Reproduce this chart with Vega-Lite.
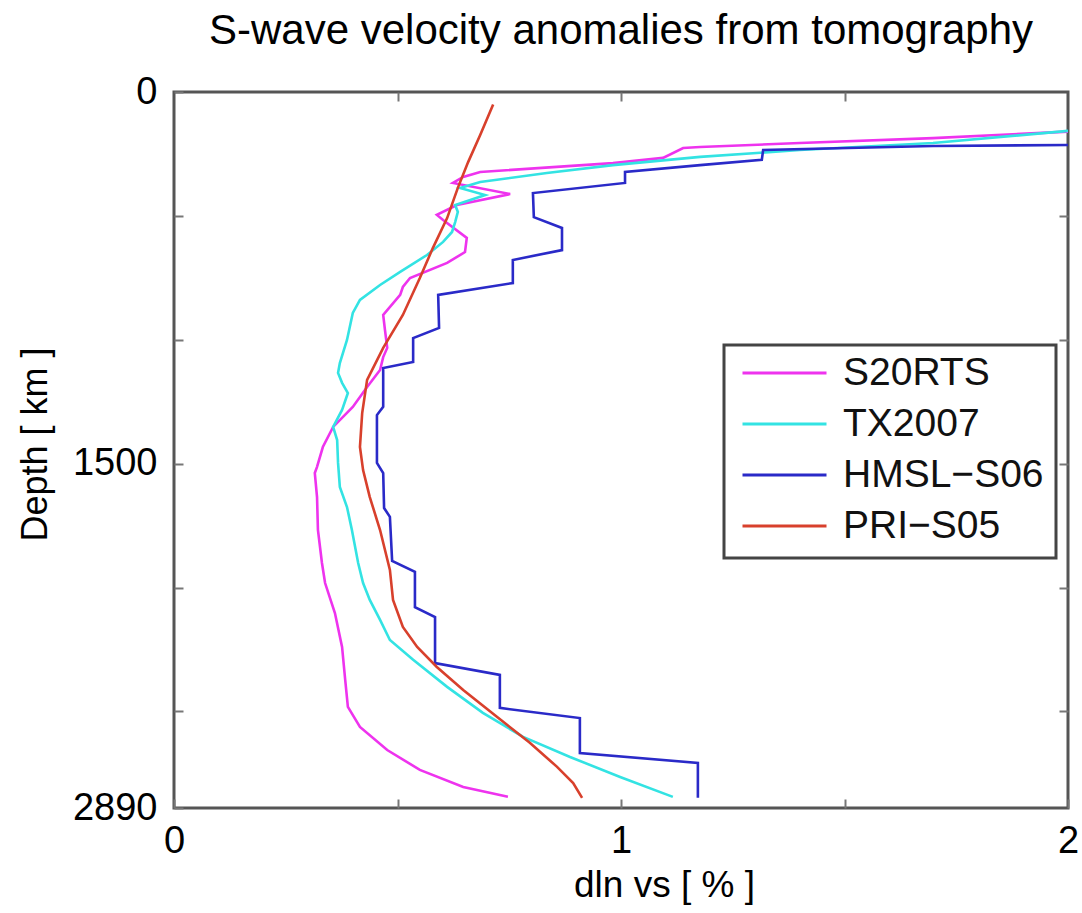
{
  "$schema": "https://vega.github.io/schema/vega-lite/v6.json",
  "autosize": "none",
  "width": 894,
  "height": 716,
  "padding": {"left": 174, "top": 92, "right": 14, "bottom": 105},
  "background": "white",
  "title": {
    "text": "S-wave velocity anomalies from tomography",
    "anchor": "middle",
    "frame": "group",
    "offset": -13,
    "baseline": "alphabetic",
    "font": "Liberation Sans",
    "fontSize": 42,
    "fontWeight": "normal",
    "color": "#000000"
  },
  "config": {
    "view": {"stroke": "#555555", "strokeWidth": 3},
    "axis": {
      "grid": false,
      "domain": false,
      "tickColor": "#777777",
      "tickWidth": 2,
      "tickSize": -9,
      "labelFont": "Liberation Sans",
      "labelFontSize": 38,
      "labelColor": "#000000",
      "titleFont": "Liberation Sans",
      "titleFontSize": 37,
      "titleFontWeight": "normal",
      "titleColor": "#000000"
    }
  },
  "data": {
    "values": [
      {"model": "S20RTS", "dlnvs": 2.0, "depth": 160},
      {"model": "S20RTS", "dlnvs": 1.698, "depth": 186},
      {"model": "S20RTS", "dlnvs": 1.4, "depth": 206},
      {"model": "S20RTS", "dlnvs": 1.177, "depth": 222},
      {"model": "S20RTS", "dlnvs": 1.139, "depth": 226},
      {"model": "S20RTS", "dlnvs": 1.094, "depth": 266},
      {"model": "S20RTS", "dlnvs": 0.982, "depth": 287},
      {"model": "S20RTS", "dlnvs": 0.685, "depth": 323},
      {"model": "S20RTS", "dlnvs": 0.647, "depth": 343},
      {"model": "S20RTS", "dlnvs": 0.624, "depth": 367},
      {"model": "S20RTS", "dlnvs": 0.752, "depth": 412},
      {"model": "S20RTS", "dlnvs": 0.633, "depth": 456},
      {"model": "S20RTS", "dlnvs": 0.588, "depth": 496},
      {"model": "S20RTS", "dlnvs": 0.602, "depth": 517},
      {"model": "S20RTS", "dlnvs": 0.655, "depth": 589},
      {"model": "S20RTS", "dlnvs": 0.651, "depth": 646},
      {"model": "S20RTS", "dlnvs": 0.611, "depth": 690},
      {"model": "S20RTS", "dlnvs": 0.528, "depth": 751},
      {"model": "S20RTS", "dlnvs": 0.512, "depth": 787},
      {"model": "S20RTS", "dlnvs": 0.506, "depth": 819},
      {"model": "S20RTS", "dlnvs": 0.468, "depth": 900},
      {"model": "S20RTS", "dlnvs": 0.472, "depth": 961},
      {"model": "S20RTS", "dlnvs": 0.477, "depth": 1033},
      {"model": "S20RTS", "dlnvs": 0.468, "depth": 1070},
      {"model": "S20RTS", "dlnvs": 0.461, "depth": 1122},
      {"model": "S20RTS", "dlnvs": 0.432, "depth": 1191},
      {"model": "S20RTS", "dlnvs": 0.4, "depth": 1271},
      {"model": "S20RTS", "dlnvs": 0.356, "depth": 1352},
      {"model": "S20RTS", "dlnvs": 0.333, "depth": 1433},
      {"model": "S20RTS", "dlnvs": 0.32, "depth": 1513},
      {"model": "S20RTS", "dlnvs": 0.315, "depth": 1538},
      {"model": "S20RTS", "dlnvs": 0.32, "depth": 1635},
      {"model": "S20RTS", "dlnvs": 0.322, "depth": 1768},
      {"model": "S20RTS", "dlnvs": 0.331, "depth": 1901},
      {"model": "S20RTS", "dlnvs": 0.338, "depth": 1982},
      {"model": "S20RTS", "dlnvs": 0.36, "depth": 2103},
      {"model": "S20RTS", "dlnvs": 0.376, "depth": 2240},
      {"model": "S20RTS", "dlnvs": 0.383, "depth": 2373},
      {"model": "S20RTS", "dlnvs": 0.389, "depth": 2482},
      {"model": "S20RTS", "dlnvs": 0.416, "depth": 2563},
      {"model": "S20RTS", "dlnvs": 0.477, "depth": 2656},
      {"model": "S20RTS", "dlnvs": 0.55, "depth": 2736},
      {"model": "S20RTS", "dlnvs": 0.647, "depth": 2805},
      {"model": "S20RTS", "dlnvs": 0.747, "depth": 2845},

      {"model": "TX2007", "dlnvs": 2.0, "depth": 157},
      {"model": "TX2007", "dlnvs": 1.698, "depth": 206},
      {"model": "TX2007", "dlnvs": 1.4, "depth": 234},
      {"model": "TX2007", "dlnvs": 1.177, "depth": 262},
      {"model": "TX2007", "dlnvs": 0.982, "depth": 295},
      {"model": "TX2007", "dlnvs": 0.834, "depth": 327},
      {"model": "TX2007", "dlnvs": 0.685, "depth": 363},
      {"model": "TX2007", "dlnvs": 0.64, "depth": 387},
      {"model": "TX2007", "dlnvs": 0.696, "depth": 416},
      {"model": "TX2007", "dlnvs": 0.629, "depth": 456},
      {"model": "TX2007", "dlnvs": 0.635, "depth": 484},
      {"model": "TX2007", "dlnvs": 0.629, "depth": 525},
      {"model": "TX2007", "dlnvs": 0.622, "depth": 565},
      {"model": "TX2007", "dlnvs": 0.602, "depth": 605},
      {"model": "TX2007", "dlnvs": 0.566, "depth": 658},
      {"model": "TX2007", "dlnvs": 0.506, "depth": 726},
      {"model": "TX2007", "dlnvs": 0.461, "depth": 779},
      {"model": "TX2007", "dlnvs": 0.416, "depth": 839},
      {"model": "TX2007", "dlnvs": 0.4, "depth": 892},
      {"model": "TX2007", "dlnvs": 0.387, "depth": 1001},
      {"model": "TX2007", "dlnvs": 0.371, "depth": 1094},
      {"model": "TX2007", "dlnvs": 0.367, "depth": 1134},
      {"model": "TX2007", "dlnvs": 0.376, "depth": 1174},
      {"model": "TX2007", "dlnvs": 0.389, "depth": 1215},
      {"model": "TX2007", "dlnvs": 0.376, "depth": 1283},
      {"model": "TX2007", "dlnvs": 0.356, "depth": 1352},
      {"model": "TX2007", "dlnvs": 0.365, "depth": 1405},
      {"model": "TX2007", "dlnvs": 0.367, "depth": 1497},
      {"model": "TX2007", "dlnvs": 0.371, "depth": 1594},
      {"model": "TX2007", "dlnvs": 0.387, "depth": 1675},
      {"model": "TX2007", "dlnvs": 0.398, "depth": 1768},
      {"model": "TX2007", "dlnvs": 0.412, "depth": 1901},
      {"model": "TX2007", "dlnvs": 0.423, "depth": 1982},
      {"model": "TX2007", "dlnvs": 0.438, "depth": 2050},
      {"model": "TX2007", "dlnvs": 0.461, "depth": 2131},
      {"model": "TX2007", "dlnvs": 0.483, "depth": 2212},
      {"model": "TX2007", "dlnvs": 0.535, "depth": 2292},
      {"model": "TX2007", "dlnvs": 0.611, "depth": 2401},
      {"model": "TX2007", "dlnvs": 0.691, "depth": 2506},
      {"model": "TX2007", "dlnvs": 0.781, "depth": 2603},
      {"model": "TX2007", "dlnvs": 0.886, "depth": 2684},
      {"model": "TX2007", "dlnvs": 0.998, "depth": 2765},
      {"model": "TX2007", "dlnvs": 1.116, "depth": 2845},

      {"model": "HMSL−S06", "dlnvs": 2.0, "depth": 214},
      {"model": "HMSL−S06", "dlnvs": 1.698, "depth": 218},
      {"model": "HMSL−S06", "dlnvs": 1.318, "depth": 234},
      {"model": "HMSL−S06", "dlnvs": 1.315, "depth": 274},
      {"model": "HMSL−S06", "dlnvs": 1.177, "depth": 295},
      {"model": "HMSL−S06", "dlnvs": 1.009, "depth": 323},
      {"model": "HMSL−S06", "dlnvs": 1.009, "depth": 367},
      {"model": "HMSL−S06", "dlnvs": 0.803, "depth": 408},
      {"model": "HMSL−S06", "dlnvs": 0.805, "depth": 505},
      {"model": "HMSL−S06", "dlnvs": 0.868, "depth": 549},
      {"model": "HMSL−S06", "dlnvs": 0.868, "depth": 638},
      {"model": "HMSL−S06", "dlnvs": 0.758, "depth": 678},
      {"model": "HMSL−S06", "dlnvs": 0.758, "depth": 771},
      {"model": "HMSL−S06", "dlnvs": 0.591, "depth": 819},
      {"model": "HMSL−S06", "dlnvs": 0.593, "depth": 952},
      {"model": "HMSL−S06", "dlnvs": 0.535, "depth": 993},
      {"model": "HMSL−S06", "dlnvs": 0.535, "depth": 1090},
      {"model": "HMSL−S06", "dlnvs": 0.468, "depth": 1114},
      {"model": "HMSL−S06", "dlnvs": 0.468, "depth": 1271},
      {"model": "HMSL−S06", "dlnvs": 0.454, "depth": 1304},
      {"model": "HMSL−S06", "dlnvs": 0.454, "depth": 1497},
      {"model": "HMSL−S06", "dlnvs": 0.468, "depth": 1538},
      {"model": "HMSL−S06", "dlnvs": 0.47, "depth": 1679},
      {"model": "HMSL−S06", "dlnvs": 0.483, "depth": 1715},
      {"model": "HMSL−S06", "dlnvs": 0.488, "depth": 1893},
      {"model": "HMSL−S06", "dlnvs": 0.539, "depth": 1937},
      {"model": "HMSL−S06", "dlnvs": 0.539, "depth": 2079},
      {"model": "HMSL−S06", "dlnvs": 0.584, "depth": 2119},
      {"model": "HMSL−S06", "dlnvs": 0.584, "depth": 2305},
      {"model": "HMSL−S06", "dlnvs": 0.729, "depth": 2353},
      {"model": "HMSL−S06", "dlnvs": 0.729, "depth": 2486},
      {"model": "HMSL−S06", "dlnvs": 0.908, "depth": 2527},
      {"model": "HMSL−S06", "dlnvs": 0.908, "depth": 2668},
      {"model": "HMSL−S06", "dlnvs": 1.172, "depth": 2708},
      {"model": "HMSL−S06", "dlnvs": 1.172, "depth": 2849},

      {"model": "PRI−S05", "dlnvs": 0.714, "depth": 50},
      {"model": "PRI−S05", "dlnvs": 0.685, "depth": 174},
      {"model": "PRI−S05", "dlnvs": 0.658, "depth": 283},
      {"model": "PRI−S05", "dlnvs": 0.635, "depth": 387},
      {"model": "PRI−S05", "dlnvs": 0.611, "depth": 509},
      {"model": "PRI−S05", "dlnvs": 0.579, "depth": 630},
      {"model": "PRI−S05", "dlnvs": 0.55, "depth": 751},
      {"model": "PRI−S05", "dlnvs": 0.512, "depth": 900},
      {"model": "PRI−S05", "dlnvs": 0.468, "depth": 1033},
      {"model": "PRI−S05", "dlnvs": 0.432, "depth": 1162},
      {"model": "PRI−S05", "dlnvs": 0.421, "depth": 1296},
      {"model": "PRI−S05", "dlnvs": 0.416, "depth": 1433},
      {"model": "PRI−S05", "dlnvs": 0.423, "depth": 1526},
      {"model": "PRI−S05", "dlnvs": 0.438, "depth": 1635},
      {"model": "PRI−S05", "dlnvs": 0.461, "depth": 1768},
      {"model": "PRI−S05", "dlnvs": 0.483, "depth": 1929},
      {"model": "PRI−S05", "dlnvs": 0.49, "depth": 2050},
      {"model": "PRI−S05", "dlnvs": 0.512, "depth": 2159},
      {"model": "PRI−S05", "dlnvs": 0.544, "depth": 2240},
      {"model": "PRI−S05", "dlnvs": 0.588, "depth": 2321},
      {"model": "PRI−S05", "dlnvs": 0.647, "depth": 2414},
      {"model": "PRI−S05", "dlnvs": 0.723, "depth": 2523},
      {"model": "PRI−S05", "dlnvs": 0.796, "depth": 2627},
      {"model": "PRI−S05", "dlnvs": 0.857, "depth": 2724},
      {"model": "PRI−S05", "dlnvs": 0.893, "depth": 2789},
      {"model": "PRI−S05", "dlnvs": 0.913, "depth": 2849}
    ]
  },
  "layer": [
    {
      "mark": {"type": "line", "strokeWidth": 2.6, "clip": true, "interpolate": "linear"},
      "encoding": {
        "x": {
          "field": "dlnvs",
          "type": "quantitative",
          "scale": {"domain": [0, 2], "nice": false, "zero": false},
          "axis": {
            "orient": "bottom",
            "title": "dln vs [ % ]",
            "values": [0, 0.5, 1, 1.5, 2],
            "labelExpr": "datum.value == 0.5 || datum.value == 1.5 ? '' : format(datum.value, 'd')",
            "labelPadding": 23,
            "labelFlush": false,
            "titleX": 490,
            "titleY": 88,
            "titleAlign": "center",
            "titleBaseline": "alphabetic"
          }
        },
        "y": {
          "field": "depth",
          "type": "quantitative",
          "scale": {"domain": [0, 2890], "reverse": true, "nice": false, "zero": false},
          "axis": {
            "orient": "left",
            "title": "Depth [ km ]",
            "values": [0, 500, 1000, 1500, 2000, 2500, 2890],
            "labelExpr": "datum.value == 0 || datum.value == 1500 || datum.value == 2890 ? datum.value : ''",
            "labelPadding": 26,
            "labelFlush": false,
            "labelBaseline": "middle",
            "titleX": -128,
            "titleY": 352,
            "titleAngle": -90,
            "titleAlign": "center",
            "titleBaseline": "alphabetic",
            "titleFontSize": 36
          }
        },
        "color": {
          "field": "model",
          "type": "nominal",
          "sort": ["S20RTS", "TX2007", "HMSL−S06", "PRI−S05"],
          "scale": {
            "domain": ["S20RTS", "TX2007", "HMSL−S06", "PRI−S05"],
            "range": ["#ee33ee", "#33e3e3", "#2a2ac8", "#d8402c"]
          },
          "legend": {
            "title": null,
            "orient": "none",
            "legendX": 550,
            "legendY": 253,
            "symbolType": "stroke",
            "symbolSize": 7056,
            "symbolStrokeWidth": 3,
            "symbolOffset": 5,
            "labelOffset": 15,
            "clipHeight": 32,
            "rowPadding": 12,
            "padding": 12,
            "strokeColor": "#444444",
            "fillColor": "#ffffff",
            "labelFont": "Liberation Sans",
            "labelFontSize": 39,
            "labelColor": "#111111",
            "labelLimit": 400,
            "encode": {"legend": {"update": {"strokeWidth": {"value": 3}}}}
          }
        },
        "order": {"field": "depth", "type": "quantitative"}
      }
    },
    {
      "mark": {"type": "point", "opacity": 0},
      "encoding": {
        "x": {
          "field": "dlnvs",
          "type": "quantitative",
          "axis": {
            "orient": "top",
            "title": null,
            "labels": false,
            "values": [0.5, 1, 1.5]
          }
        },
        "y": {
          "field": "depth",
          "type": "quantitative",
          "axis": {
            "orient": "right",
            "title": null,
            "labels": false,
            "values": [500, 1000, 1500, 2000, 2500]
          }
        }
      }
    }
  ],
  "resolve": {"axis": {"x": "independent", "y": "independent"}}
}
